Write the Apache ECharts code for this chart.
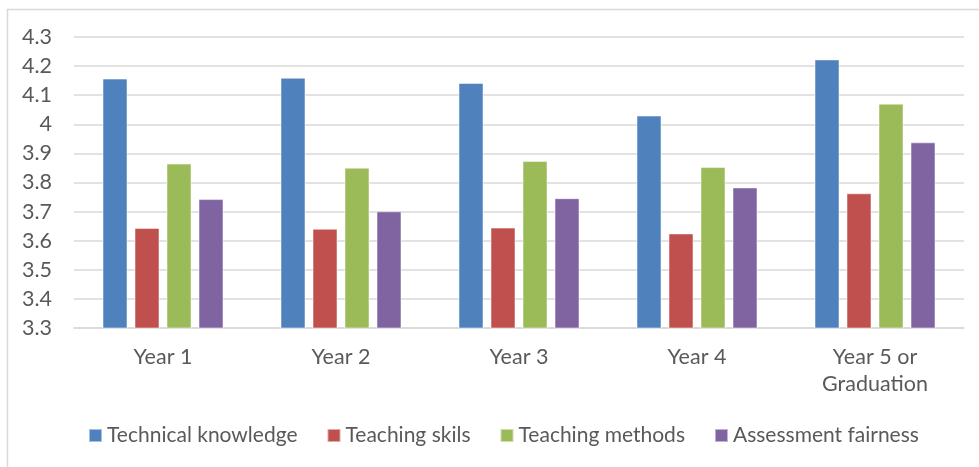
<!DOCTYPE html>
<html>
<head>
<meta charset="utf-8">
<script src="https://cdn.jsdelivr.net/npm/echarts@6/dist/echarts.min.js"></script>
<style>
    html, body { margin: 0; padding: 0; background: #fff; }
    #chart { width: 979px; height: 467px; }
</style>
</head>
<body>
<div id="chart"></div>
<script>
// values
const categories = ['Year 1', 'Year 2', 'Year 3', 'Year 4', 'Year 5 or\nGraduation'];
const seriesNames = ['Technical knowledge', 'Teaching skils', 'Teaching methods', 'Assessment fairness'];
const technicalKnowledge = [4.157, 4.160, 4.142, 4.030, 4.223];
const teachingSkils = [3.644, 3.641, 3.645, 3.625, 3.763];
const teachingMethods = [3.865, 3.851, 3.874, 3.853, 4.071];
const assessmentFairness = [3.743, 3.701, 3.746, 3.783, 3.938];
const yMin = 3.3;
const yMax = 4.3;
const yStep = 0.1;

const colors = ['#4F81BD', '#C0504D', '#9BBB59', '#8064A2'];
const font = 'Lato';
const textColor = '#595959';
const fontSize = 21.5;

const chart = echarts.init(document.getElementById('chart'));

const makeBar = (name, data) => ({
    name: name,
    type: 'bar',
    data: data,
    barWidth: 25,
    barGap: '28%',
    itemStyle: {
        borderColor: 'rgba(255,255,255,0.5)',
        borderWidth: 1
    }
});

chart.setOption({
    color: colors,
    animation: false,
    textStyle: { fontFamily: font },
    graphic: [{
        type: 'rect',
        shape: { x: 7.5, y: 9.5, width: 1200, height: 1200 },
        style: { fill: 'none', stroke: '#d9d9d9', lineWidth: 1.5 },
        silent: true
    }],
    grid: {
        left: 74,
        right: 15,
        top: 37,
        bottom: 139
    },
    legend: {
        left: 88,
        top: 425,
        padding: 0,
        icon: 'rect',
        itemWidth: 13,
        itemHeight: 13,
        itemGap: 29,
        textStyle: { color: textColor, fontSize: 21, fontFamily: font },
        data: seriesNames
    },
    xAxis: {
        type: 'category',
        data: categories,
        axisLine: { lineStyle: { color: '#d9d9d9', width: 1.5 } },
        axisTick: { show: false },
        axisLabel: {
            color: textColor,
            fontSize: fontSize,
            fontFamily: font,
            margin: 16,
            lineHeight: 27,
            interval: 0
        }
    },
    yAxis: {
        type: 'value',
        min: yMin,
        max: yMax,
        interval: yStep,
        axisLine: { show: false },
        axisTick: { show: false },
        splitLine: { lineStyle: { color: '#d9d9d9', width: 1.5 } },
        axisLabel: {
            color: textColor,
            fontSize: fontSize,
            fontFamily: font,
            margin: 22,
            formatter: v => String(parseFloat(v.toFixed(1)))
        }
    },
    series: [
        makeBar(seriesNames[0], technicalKnowledge),
        makeBar(seriesNames[1], teachingSkils),
        makeBar(seriesNames[2], teachingMethods),
        makeBar(seriesNames[3], assessmentFairness)
    ]
});
</script>
</body>
</html>
